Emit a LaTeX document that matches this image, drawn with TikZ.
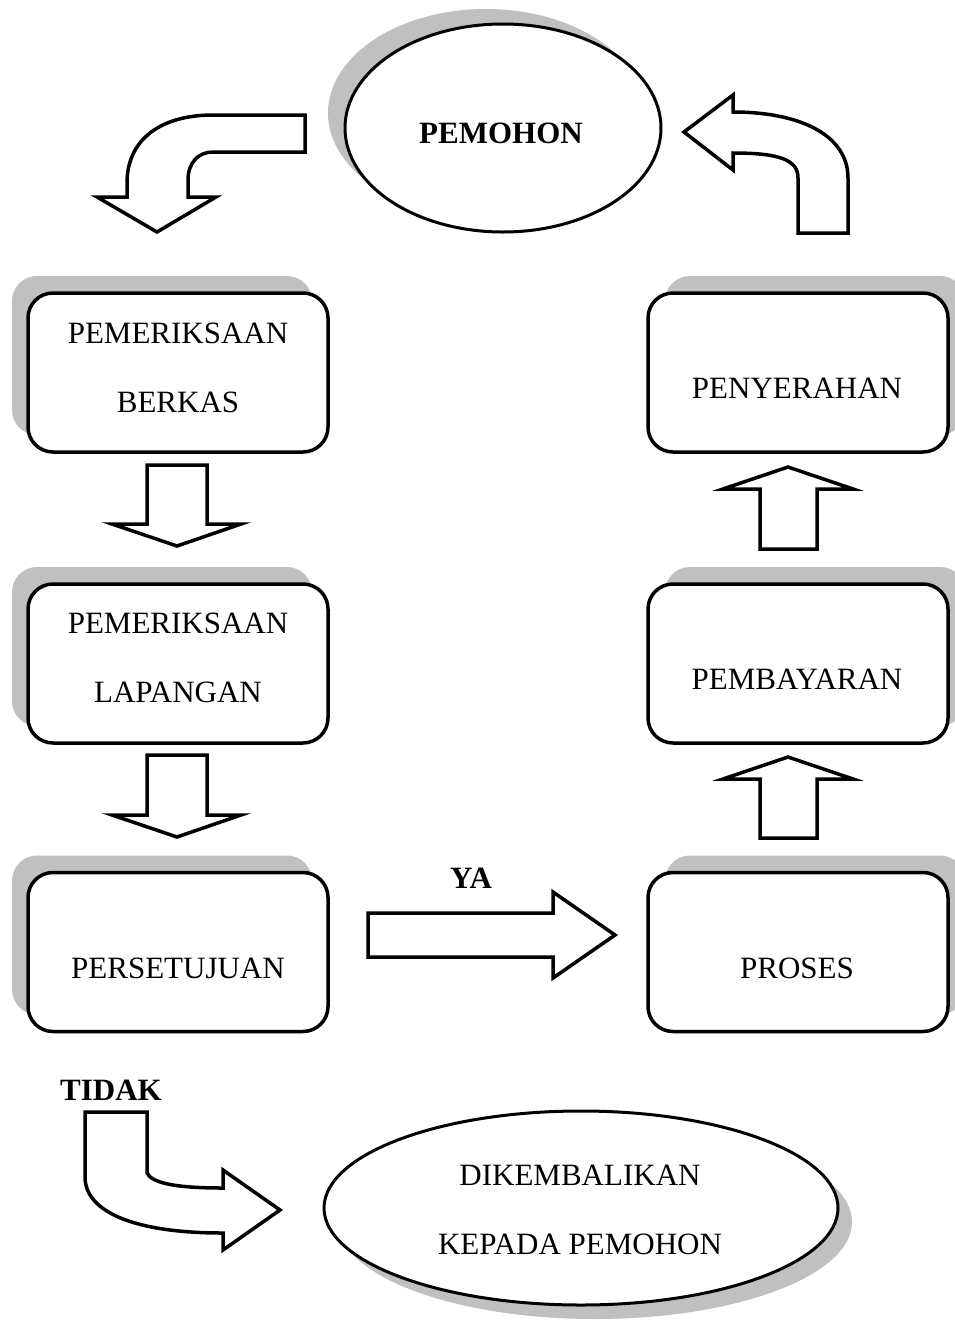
\documentclass[tikz,border=0pt]{standalone}
\usepackage{fontspec}
\setmainfont{Liberation Serif}
\usetikzlibrary{shapes.geometric,shadows}
\definecolor{shadowgray}{RGB}{192,192,192}
\begin{document}
\begin{tikzpicture}[x=1pt,y=-1pt,
  box/.style={draw=black, line width=3.5pt, fill=white, rounded corners=25pt,
    minimum width=300pt, minimum height=159pt, inner sep=0pt},
  lshadow/.style={drop shadow={shadow xshift=-16pt, shadow yshift=17pt, fill=shadowgray, opacity=1}},
  rshadow/.style={drop shadow={shadow xshift=17pt, shadow yshift=17pt, fill=shadowgray, opacity=1}},
  oval/.style={ellipse, draw=black, line width=3pt, fill=white, inner sep=0pt},
  txt/.style={font=\fontsize{31}{69}\selectfont, align=center, inner sep=0pt},
  btxt/.style={font=\fontsize{31}{38}\selectfont\bfseries, align=center, inner sep=0pt},
  blockarrow/.style={draw=black, line width=3.5pt, fill=white}]
\useasboundingbox (0,0) rectangle (954,1323);
\fill[white] (0,0) rectangle (954,1323);

% top ellipse
\node[oval, minimum width=316pt, minimum height=208pt,
  drop shadow={shadow xshift=-17pt, shadow yshift=15pt, fill=shadowgray, opacity=1}] (pem) at (503,128) {};
\node[btxt] (pemt) at (501,133) {PEMOHON};

% left boxes
\node[box, lshadow] (b1) at (178,372.5) {};
\node[txt] (b1t) at (178,367.5) {PEMERIKSAAN\\BERKAS};
\node[box, lshadow] (b2) at (178,663.5) {};
\node[txt] (b2t) at (178,658) {PEMERIKSAAN\\LAPANGAN};
\node[box, lshadow] (b3) at (178,952) {};
\node[txt] (b3t) at (178,968) {PERSETUJUAN};

% right boxes
\node[box, rshadow] (r1) at (798,372.5) {};
\node[txt] (r1t) at (797,388) {PENYERAHAN};
\node[box, rshadow] (r2) at (798,663.5) {};
\node[txt] (r2t) at (797,679) {PEMBAYARAN};
\node[box, rshadow] (r3) at (798,952) {};
\node[txt] (r3t) at (797,968) {PROSES};

% bottom ellipse
\node[oval, minimum width=514pt, minimum height=194pt,
  drop shadow={shadow xshift=14pt, shadow yshift=-14pt, fill=shadowgray, opacity=1}] (dik) at (581,1208) {};
\node[txt] (dikt) at (580,1210) {DIKEMBALIKAN\\KEPADA PEMOHON};

% labels
\node[btxt] (ya) at (471,878) {YA};
\node[btxt] (tidak) at (111,1090) {TIDAK};

% curved arrow top-left
\draw[blockarrow] (305,115) -- (213,115)
  .. controls (160,115) and (127,140) .. (127,183) -- (127,197) -- (97,197)
  -- (157,232) -- (216,197) -- (188,197) -- (188,180)
  .. controls (188,163) and (198,152) .. (213,152) -- (305,152) -- cycle;

% curved arrow top-right
\draw[blockarrow] (798,233) -- (848,233) -- (848,178)
  .. controls (848,135) and (800,112) .. (733,112) -- (733,95) -- (684,132)
  -- (733,170) -- (733,153)
  .. controls (780,153) and (798,160) .. (798,178) -- cycle;

% down arrows
\draw[blockarrow] (147,465) -- (207,465) -- (207,524) -- (241,524) -- (177,546)
  -- (112,524) -- (147,524) -- cycle;
\draw[blockarrow] (147,755) -- (207,755) -- (207,815) -- (241,815) -- (177,837)
  -- (112,815) -- (147,815) -- cycle;

% up arrows
\draw[blockarrow] (760,549) -- (817,549) -- (817,489) -- (853,489) -- (788,467)
  -- (723,489) -- (760,489) -- cycle;
\draw[blockarrow] (760,838) -- (817,838) -- (817,779) -- (853,779) -- (788,757)
  -- (723,779) -- (760,779) -- cycle;

% YA arrow
\draw[blockarrow] (368,913) -- (553,913) -- (553,892) -- (615,935) -- (553,978)
  -- (553,957) -- (368,957) -- cycle;

% TIDAK arrow
\draw[blockarrow] (85,1112) -- (147,1112) -- (147,1173)
  .. controls (152,1183) and (175,1188) .. (223,1188) -- (223,1170) -- (280,1210)
  -- (223,1250) -- (223,1233)
  .. controls (130,1233) and (85,1210) .. (85,1177) -- cycle;
\end{tikzpicture}
\end{document}
